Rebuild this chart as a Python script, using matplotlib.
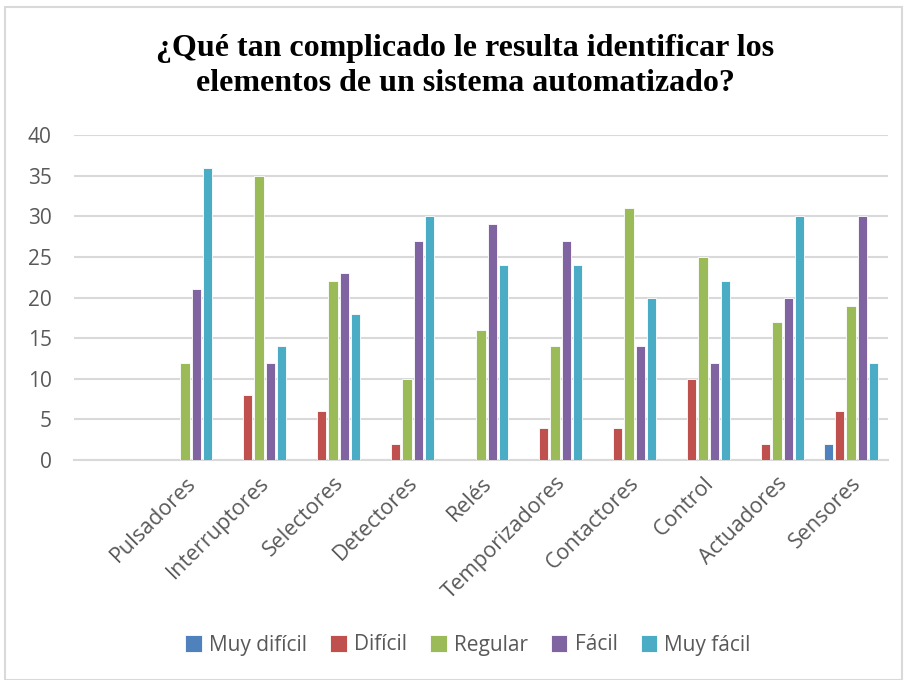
import matplotlib
matplotlib.use("Agg")
import matplotlib.pyplot as plt
import numpy as np
from matplotlib.patches import Rectangle

# --- Data ---
categories = ["Pulsadores", "Interruptores", "Selectores", "Detectores", "Relés",
              "Temporizadores", "Contactores", "Control", "Actuadores", "Sensores"]
series_names = ["Muy difícil", "Difícil", "Regular", "Fácil", "Muy fácil"]
muy_dificil = [0, 0, 0, 0, 0, 0, 0, 0, 0, 2]
dificil = [0, 8, 6, 2, 0, 4, 4, 10, 2, 6]
regular = [12, 35, 22, 10, 16, 14, 31, 25, 17, 19]
facil = [21, 12, 23, 27, 29, 27, 14, 12, 20, 30]
muy_facil = [36, 14, 18, 30, 24, 24, 20, 22, 30, 12]
colors = ["#4F81BD", "#C0504D", "#9BBB59", "#8064A2", "#4BACC6"]

title = "¿Qué tan complicado le resulta identificar los\nelementos de un sistema automatizado?"

# --- Figure ---
fig = plt.figure(figsize=(9.05, 6.8), dpi=100)
ax = fig.add_axes([74 / 905, 1 - 460 / 680, 814 / 905, 325 / 680])

# outer chart border
fig.patches.append(Rectangle((5 / 905, 0), 897 / 905, 1 - 7 / 680,
                             transform=fig.transFigure, fill=False,
                             edgecolor="#d9d9d9", linewidth=1.5))

x = np.arange(len(categories))
pitch = 0.153
width = 0.125
all_series = [muy_dificil, dificil, regular, facil, muy_facil]
for i, (vals, name, c) in enumerate(zip(all_series, series_names, colors)):
    ax.bar(x + (i - 2) * pitch, vals, width, color=c, label=name,
           edgecolor="white", linewidth=0.6, zorder=3)

ax.set_xlim(-1.5, 9.5)
ax.set_ylim(0, 40)
ax.set_yticks(range(0, 41, 5))
ax.yaxis.grid(True, color="#d9d9d9", linewidth=1.5, zorder=0)
ax.set_axisbelow(True)
for s in ["top", "right", "left"]:
    ax.spines[s].set_visible(False)
ax.spines["bottom"].set_color("#d9d9d9")
ax.spines["bottom"].set_linewidth(1.5)
ax.tick_params(axis="both", length=0, colors="#595959", labelsize=15)
ax.tick_params(axis="y", pad=16)
ax.tick_params(axis="x", pad=9)
for t in ax.get_yticklabels():
    t.set_fontfamily("Open Sans")

ax.set_xticks(x)
ax.set_xticklabels(categories, rotation=45, ha="right", rotation_mode="anchor",
                   fontfamily="Open Sans", fontsize=15.5, color="#595959")

fig.text(465 / 905, 1 - 66 / 680, title, ha="center", va="center",
         fontfamily="Liberation Serif", fontweight="bold", fontsize=23,
         linespacing=1.25, color="black")

leg = fig.legend(loc="center", bbox_to_anchor=(468 / 905, 1 - 645 / 680), ncol=5,
                 frameon=False, handlelength=0.8, handleheight=0.85,
                 handletextpad=0.35, columnspacing=1.1,
                 prop={"family": "Open Sans", "size": 15})
for t in leg.get_texts():
    t.set_color("#595959")

fig.savefig("out.png", dpi=100)
